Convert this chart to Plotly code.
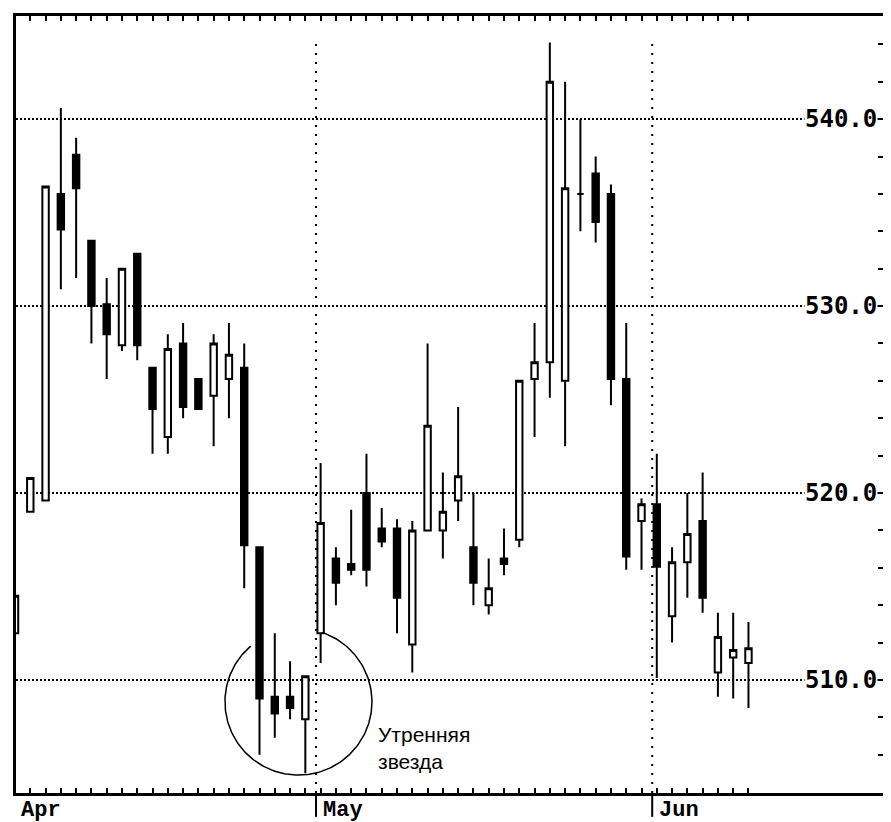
import numpy as np
import plotly.graph_objects as go

# ---- data ----
opens  = [512.5, 519.0, 519.6, 536.0, 538.1, 533.5, 530.1, 527.9, 532.8, 526.7,
          523.0, 528.0, 526.1, 525.2, 526.1, 526.7, 517.1, 509.1, 509.1, 507.9,
          512.5, 516.5, 516.2, 520.0, 518.1, 518.1, 511.9, 518.0, 518.0, 519.6,
          517.1, 514.0, 516.5, 517.5, 526.1, 527.0, 526.0, 536.0, 537.1, 536.0,
          526.1, 518.5, 519.4, 513.4, 516.3, 518.5, 510.4, 511.2, 510.9]
highs  = [514.5, 520.8, 536.4, 540.6, 539.0, 533.5, 531.5, 532.0, 532.8, 526.7,
          528.5, 529.1, 526.1, 528.5, 529.1, 528.0, 517.1, 512.5, 511.0, 510.2,
          521.6, 517.1, 519.1, 522.1, 519.2, 518.6, 518.5, 528.0, 521.1, 524.6,
          520.0, 516.5, 518.1, 526.0, 529.1, 544.1, 542.0, 540.0, 538.0, 536.5,
          529.1, 519.7, 522.1, 517.1, 520.0, 521.1, 513.6, 513.6, 513.1]
lows   = [512.5, 519.0, 519.6, 530.9, 531.5, 528.0, 526.1, 527.6, 527.1, 522.1,
          522.1, 524.0, 524.5, 522.5, 524.0, 514.9, 506.0, 506.9, 507.9, 505.0,
          510.9, 514.0, 515.6, 515.0, 517.1, 512.5, 510.4, 518.0, 516.5, 518.5,
          514.0, 513.5, 515.6, 517.1, 523.0, 525.1, 522.5, 534.0, 533.4, 524.7,
          515.9, 515.9, 510.1, 512.0, 514.4, 513.6, 509.1, 509.0, 508.5]
closes = [514.5, 520.8, 536.4, 534.1, 536.3, 530.0, 528.5, 532.0, 527.9, 524.5,
          527.7, 524.6, 524.5, 528.0, 527.4, 517.2, 509.0, 508.2, 508.5, 510.2,
          518.4, 515.2, 515.9, 515.9, 517.4, 514.4, 518.0, 523.6, 519.0, 520.9,
          515.2, 514.9, 516.2, 526.0, 527.0, 542.0, 536.3, 536.0, 534.5, 526.1,
          516.6, 519.4, 516.05, 516.3, 517.8, 514.4, 512.3, 511.6, 511.7]

days = list(range(len(opens)))            # trading-day index
month_names = ["Apr", "May", "Jun"]
month_start = [0, 20, 42]                 # first trading day of each month
price_labels = [510, 520, 530, 540]
pattern_days = [16, 17, 18, 19]           # "morning star" area
pattern_text = "Утренняя<br>звезда"

X_RANGE = [0.065, 57.0]
Y_RANGE = [503.95, 545.52]

# the page has an 8px body margin, so the figure is 8px smaller on each side
FIG_W, FIG_H = 883, 814
M = dict(l=8, r=5, t=5, b=29)
plot_h = FIG_H - M["t"] - M["b"]

fig = go.Figure()

fig.add_trace(go.Candlestick(
    x=days, open=opens, high=highs, low=lows, close=closes,
    increasing=dict(line=dict(color="black", width=2), fillcolor="white"),
    decreasing=dict(line=dict(color="black", width=2), fillcolor="black"),
    whiskerwidth=0, showlegend=False, hoverinfo="skip",
))

# circle around the morning star (arc, open at the top)
cx = float(np.mean(pattern_days)) + 1.05
cy = 508.83
rx, ry = 4.81, 3.92
t = np.radians(np.linspace(130.6, 431.0, 200))
fig.add_trace(go.Scatter(x=cx + rx * np.cos(t), y=cy + ry * np.sin(t), mode="lines",
                         line=dict(color="black", width=1.5), showlegend=False,
                         hoverinfo="skip", cliponaxis=False))

shapes = []
annotations = []
for name, s in zip(month_names, month_start):
    sep = max(s - 0.3, X_RANGE[0] - 0.1)
    if s > 0:
        shapes.append(dict(type="line", xref="x", yref="y", x0=sep, x1=sep,
                           y0=Y_RANGE[0], y1=544.2,
                           line=dict(color="black", width=2, dash="2px,7px")))
    shapes.append(dict(type="line", xref="x", yref="paper", x0=sep, x1=sep,
                       y0=-3 / plot_h, y1=-24 / plot_h,
                       line=dict(color="black", width=2)))
    annotations.append(dict(x=sep + 0.3, y=0, xref="x", yref="paper", text=name,
                            showarrow=False, xanchor="left", yanchor="top", yshift=-3,
                            font=dict(family="Liberation Mono", size=22, color="black",
                                      weight="bold")))

for v in price_labels:
    annotations.append(dict(x=1, y=v, xref="paper", yref="y", text=f"{v:.1f}",
                            showarrow=False, xanchor="right", yanchor="middle",
                            xshift=-8, bgcolor="white", borderpad=0,
                            font=dict(family="DejaVu Sans Mono", size=24, color="black",
                                      weight="bold")))

annotations.append(dict(x=23.6, y=506.35, xref="x", yref="y", text=pattern_text,
                        showarrow=False, xanchor="left", yanchor="middle", align="left",
                        font=dict(family="Liberation Sans", size=21, color="black")))

fig.update_layout(
    width=FIG_W, height=FIG_H,
    margin=M,
    paper_bgcolor="white", plot_bgcolor="white",
    boxgap=0.4,
    shapes=shapes, annotations=annotations,
    showlegend=False,
    xaxis=dict(range=X_RANGE, rangeslider=dict(visible=False), showgrid=False,
               zeroline=False, showline=True, linecolor="black", linewidth=3,
               mirror="ticks", ticks="inside", ticklen=5, tickwidth=1.5,
               tickcolor="black", tickvals=days, showticklabels=False),
    yaxis=dict(range=Y_RANGE, side="right", showgrid=True, gridcolor="black",
               gridwidth=1.5, griddash="2px,2px", zeroline=False, showline=True,
               linecolor="black", linewidth=3, mirror=True, ticks="inside",
               ticklen=8, tickwidth=2, tickcolor="black", tickvals=price_labels,
               showticklabels=False,
               minor=dict(ticks="inside", ticklen=8, tickwidth=2, tickcolor="black",
                          dtick=2, tick0=0, showgrid=False)),
)

fig.write_html("out.html")
